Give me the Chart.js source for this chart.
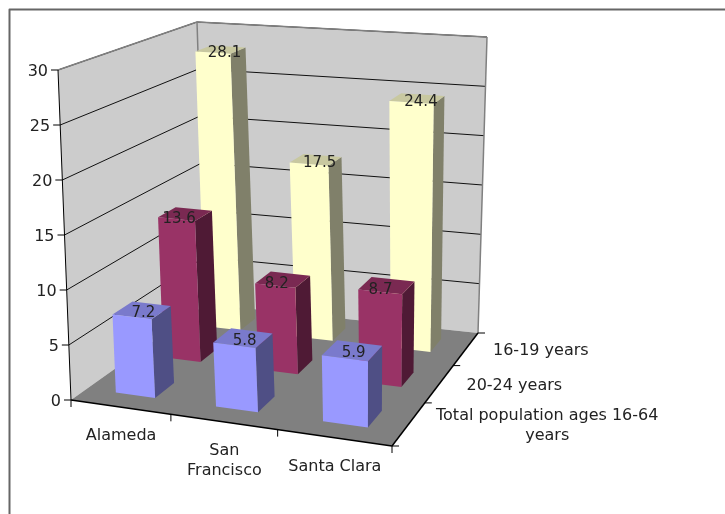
<!DOCTYPE html>
<html>
<head>
<meta charset="utf-8">
<title>Unemployment by county</title>
<script src="https://cdn.jsdelivr.net/npm/chart.js@4"></script>
<style>
  html, body { margin: 0; padding: 0; background: #fff; }
  canvas { display: block; }
</style>
</head>
<body>
<canvas id="myChart" width="725" height="514"></canvas>
<script>
const categories = ['Alameda', ['San', 'Francisco'], 'Santa Clara']
const seriesNames = [['Total population ages 16-64', 'years'], '20-24 years', '16-19 years']
const totalPopulation = [7.2, 5.8, 5.9]
const ages20to24 = [13.6, 8.2, 8.7]
const ages16to19 = [28.1, 17.5, 24.4]

const frontColors = ['#9999ff', '#993366', '#ffffcc']
const sideColors = ['#4f4f85', '#4f1a35', '#80806a']
const topColors = ['#7a7acc', '#7a2952', '#c8c8a0']

// corners of the 3D box on screen, order: front-left, front-right, back-right, back-left
const floorCorners = [[71, 400], [392, 446], [478, 333], [206, 304]]
const ceilCorners = [[58, 70], [398, 102], [487, 37], [197, 22]]
const labelFont = '16px "DejaVu Sans"'
const valueFont = '15px "DejaVu Sans"'
const textDrop = 2 // middle baseline sits a bit high
const valueShift = [[1.5, 1], [-6, 3], [4, 1.5]] // per series, data labels are not quite centered

// maps the unit square onto a four sided shape
function squareToQuad(q) {
    const [[x0, y0], [x1, y1], [x2, y2], [x3, y3]] = q
    const dx1 = x1 - x2, dx2 = x3 - x2, sx = x0 - x1 + x2 - x3
    const dy1 = y1 - y2, dy2 = y3 - y2, sy = y0 - y1 + y2 - y3
    const den = dx1 * dy2 - dx2 * dy1
    const g = (sx * dy2 - dx2 * sy) / den
    const h = (dx1 * sy - sx * dy1) / den
    const a = x1 - x0 + g * x1, b = x3 - x0 + h * x3
    const d = y1 - y0 + g * y1, e = y3 - y0 + h * y3
    return (u, v) => {
        const w = g * u + h * v + 1
        return [(a * u + b * v + x0) / w, (d * u + e * v + y0) / w]
    }
}

const onFloor = squareToQuad(floorCorners)
const onCeil = squareToQuad(ceilCorners)

// u along categories, v along series, w up the value axis, all 0..1
function project(u, v, w) {
    const p0 = onFloor(u, v)
    const p1 = onCeil(u, v)
    return [p0[0] + (p1[0] - p0[0]) * w, p0[1] + (p1[1] - p0[1]) * w]
}

function poly(ctx, pts, fill, stroke, lw) {
    ctx.beginPath()
    pts.forEach((p, i) => i ? ctx.lineTo(p[0], p[1]) : ctx.moveTo(p[0], p[1]))
    ctx.closePath()
    if (fill) { ctx.fillStyle = fill; ctx.fill() }
    if (stroke) { ctx.strokeStyle = stroke; ctx.lineWidth = lw || 1; ctx.stroke() }
}

function line(ctx, a, b, color, lw) {
    ctx.beginPath()
    ctx.moveTo(a[0], a[1])
    ctx.lineTo(b[0], b[1])
    ctx.strokeStyle = color
    ctx.lineWidth = lw || 1
    ctx.stroke()
}

function drawMultiline(ctx, label, x, y, lineHeight) {
    const lines = [].concat(label)
    lines.forEach((t, i) => ctx.fillText(t, x, y + i * lineHeight))
}

const box3d = {
    id: 'box3d',
    beforeDatasetsDraw(chart) {
        const { ctx, chartArea: area, scales } = chart
        const { x: xScale, y: yScale, z: zScale } = scales
        const fracY = val => (area.bottom - yScale.getPixelForValue(val)) / area.height
        const fracX = px => (px - area.left) / area.width

        ctx.save()
        ctx.lineJoin = 'round'

        // outer frame, runs off the page on the right and at the bottom
        ctx.strokeStyle = '#666'
        ctx.lineWidth = 2
        ctx.strokeRect(9.5, 9.5, 900, 900)

        // walls
        poly(ctx, [project(0, 0, 0), project(0, 0, 1), project(0, 1, 1), project(0, 1, 0)], '#cccccc')
        poly(ctx, [project(0, 1, 0), project(0, 1, 1), project(1, 1, 1), project(1, 1, 0)], '#cccccc')

        // grid lines on both walls
        yScale.ticks.forEach(t => {
            const w = fracY(t.value)
            if (w > 0) {
                line(ctx, project(0, 0, w), project(0, 1, w), '#111')
                line(ctx, project(0, 1, w), project(1, 1, w), '#111')
            }
        })
        line(ctx, project(0, 0, 1), project(0, 1, 1), '#808080', 1.5)
        line(ctx, project(0, 1, 1), project(1, 1, 1), '#808080', 1.5)
        line(ctx, project(0, 1, 0), project(0, 1, 1), '#808080', 1.5)
        line(ctx, project(1, 1, 0), project(1, 1, 1), '#808080', 1.5)

        // floor
        poly(ctx, [project(0, 0, 0), project(1, 0, 0), project(1, 1, 0), project(0, 1, 0)], '#808080')

        // bars, back row first
        const zCount = seriesNames.length
        const tops = []
        for (let di = chart.data.datasets.length - 1; di >= 0; di--) {
            const meta = chart.getDatasetMeta(di)
            const values = chart.data.datasets[di].data
            const vMid = fracX(zScale.getPixelForValue(di))
            meta.data.forEach((bar, i) => {
                const uMid = fracX(bar.x)
                const half = bar.width / area.width / 2
                const depth = half * categories.length / zCount
                const u0 = uMid - half, u1 = uMid + half
                const v0 = vMid - depth, v1 = vMid + depth
                const w = (area.bottom - bar.y) / area.height
                poly(ctx, [project(u1, v0, 0), project(u1, v1, 0), project(u1, v1, w), project(u1, v0, w)], sideColors[di])
                poly(ctx, [project(u0, v0, w), project(u1, v0, w), project(u1, v1, w), project(u0, v1, w)], topColors[di])
                poly(ctx, [project(u0, v0, 0), project(u1, v0, 0), project(u1, v0, w), project(u0, v0, w)], frontColors[di])
                const p = project(uMid, vMid, w)
                tops.push({ x: p[0] + valueShift[di][0], y: p[1] + valueShift[di][1], text: values[i].toFixed(1) })
            })
        }

        // axis lines
        line(ctx, project(0, 0, 0), project(0, 0, 1), '#000')
        line(ctx, project(0, 0, 0), project(1, 0, 0), '#000', 1.5)
        line(ctx, project(1, 0, 0), project(1, 1, 0), '#000', 1.5)

        ctx.fillStyle = '#222'
        ctx.textBaseline = 'middle'

        // value axis ticks and labels
        ctx.font = labelFont
        ctx.textAlign = 'right'
        yScale.ticks.forEach(t => {
            const p = project(0, 0, fracY(t.value))
            line(ctx, [p[0] - 7, p[1]], p, '#000')
            ctx.fillText(t.value, p[0] - 10, p[1] + textDrop)
        })

        // category ticks and labels
        ctx.textAlign = 'center'
        for (let i = 0; i <= categories.length; i++) {
            const p = project(i / categories.length, 0, 0)
            line(ctx, p, [p[0], p[1] + 7], '#000')
        }
        categories.forEach((label, i) => {
            const p = project(fracX(xScale.getPixelForValue(i)), 0, 0)
            drawMultiline(ctx, label, p[0] + 1, p[1] + 27 + textDrop, 20)
        })

        // series ticks and labels
        for (let i = 0; i <= zCount; i++) {
            const p = project(1, i / zCount, 0)
            line(ctx, p, [p[0] + 7, p[1]], '#000')
        }
        seriesNames.forEach((label, i) => {
            const lines = [].concat(label)
            const p = project(1, fracX(zScale.getPixelForValue(i)), 0)
            const widest = Math.max(...lines.map(t => ctx.measureText(t).width))
            drawMultiline(ctx, lines, p[0] + 27 + widest / 2, p[1] - (lines.length - 1) * 10 + textDrop, 20)
        })

        // values on top of the bars
        ctx.font = valueFont
        tops.forEach(t => ctx.fillText(t.text, t.x, t.y + textDrop))

        ctx.restore()
        return false
    }
}

new Chart(document.getElementById('myChart'), {
    type: 'bar',
    data: {
        labels: categories,
        datasets: [
            { label: seriesNames[0].join(' '), data: totalPopulation, backgroundColor: frontColors[0] },
            { label: seriesNames[1], data: ages20to24, backgroundColor: frontColors[1] },
            { label: seriesNames[2], data: ages16to19, backgroundColor: frontColors[2] }
        ]
    },
    options: {
        responsive: false,
        animation: false,
        layout: { padding: { left: 71, right: 333, top: 70, bottom: 114 } },
        datasets: { bar: { grouped: false, barPercentage: 0.4, categoryPercentage: 1 } },
        plugins: { legend: { display: false }, tooltip: { enabled: false } },
        scales: {
            x: { display: false, offset: true },
            y: { display: false, min: 0, max: 30, ticks: { stepSize: 5 } },
            z: { type: 'category', axis: 'x', position: 'bottom', display: false, offset: true, labels: seriesNames }
        }
    },
    plugins: [box3d]
})
</script>
</body>
</html>
